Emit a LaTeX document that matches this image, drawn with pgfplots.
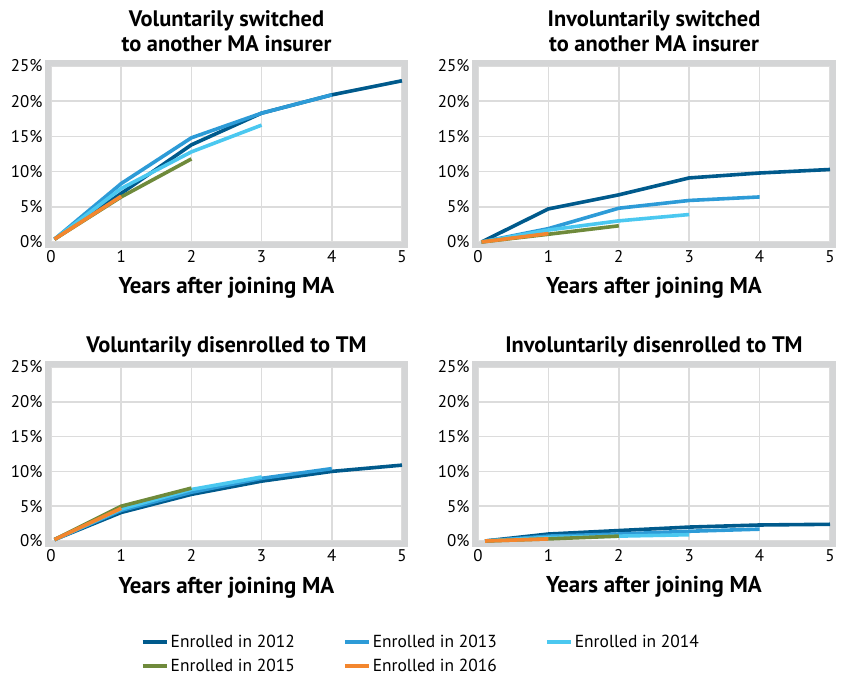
\documentclass[border=0pt]{standalone}
\usepackage{pgfplots}
\pgfplotsset{compat=1.18}
\usepackage{fontspec}
\setmainfont{PT Sans}
\definecolor{c12}{HTML}{005A8C}
\definecolor{c13}{HTML}{2D9BD7}
\definecolor{c14}{HTML}{4BC8F0}
\definecolor{c15}{HTML}{6F8A3B}
\definecolor{c16}{HTML}{F3862E}
\definecolor{framec}{HTML}{D4D5D6}
\definecolor{gridc}{HTML}{DCDCDC}
\pgfplotsset{
  myax/.style={
    scale only axis, width=351bp, height=176bp,
    xmin=0, xmax=5, ymin=0, ymax=25,
    xtick={0,...,5}, ytick={0,5,...,25},
    yticklabel={\pgfmathprintnumber{\tick}\%},
    grid=major, major grid style={gridc, line width=1.7bp},
    axis line style={draw=none},
    tick style={draw=none},
    ticklabel style={font=\fontsize{17}{19}\selectfont},
    xticklabel style={yshift=-5bp},
    yticklabel style={xshift=-5bp},
    /pgf/number format/assume math mode=true,
    xlabel={Years after joining MA},
    xlabel style={font=\bfseries\fontsize{23}{25}\selectfont, at={(axis description cs:0.5,0)}, anchor=base, yshift=-52bp},
    every axis plot/.append style={line width=3.6bp, line join=round, mark=none},
    clip=false,
  },
  toptitle/.style={title style={font=\bfseries\fontsize{22.5}{25}\selectfont, align=center, at={(axis description cs:0.5,1)}, anchor=south, inner sep=0pt, yshift=8bp}},
  bottitle/.style={title style={font=\bfseries\fontsize{22.5}{25}\selectfont, at={(axis description cs:0.5,1)}, anchor=base, inner sep=0pt, yshift=9bp}},
}
\newcommand{\plotframe}{\draw[framec, line width=6bp] ([xshift=-3bp,yshift=-3bp]rel axis cs:0,0) rectangle ([xshift=3bp,yshift=3bp]rel axis cs:1,1);}
\begin{document}
\begin{tikzpicture}
\path[use as bounding box] (0,0) rectangle (845bp,676bp);
% Top-left
\begin{axis}[myax, toptitle, at={(51bp,434bp)}, title={Voluntarily switched\\to another MA insurer}]
\plotframe
\addplot[c12] coordinates {(0.05,0.4) (1,6.9) (2,13.8) (3,18.3) (4,20.9) (5,22.9)};
\addplot[c13] coordinates {(0.05,0.4) (1,8.3) (2,14.8) (3,18.3) (4,20.9)};
\addplot[c14] coordinates {(0.05,0.4) (1,7.6) (2,12.8) (3,16.6)};
\addplot[c15] coordinates {(0.05,0.4) (1,6.4) (2,11.8)};
\addplot[c16] coordinates {(0.05,0.4) (1,6.5)};
\end{axis}
% Top-right
\begin{axis}[myax, toptitle, width=352bp, at={(478bp,434bp)}, title={Involuntarily switched\\to another MA insurer}]
\plotframe
\addplot[c12] coordinates {(0.05,0) (1,4.7) (2,6.7) (3,9.1) (4,9.8) (5,10.3)};
\addplot[c13] coordinates {(0.05,0) (1,1.9) (2,4.8) (3,5.9) (4,6.4)};
\addplot[c14] coordinates {(0.05,0) (1,1.7) (2,3.0) (3,3.9)};
\addplot[c15] coordinates {(0.05,0) (1,1.1) (2,2.3)};
\addplot[c16] coordinates {(0.05,0) (1,1.2)};
\end{axis}
% Bottom-left
\begin{axis}[myax, bottitle, height=174bp, at={(51bp,135bp)}, title={Voluntarily disenrolled to TM},
  legend columns=3,
  legend style={draw=none, fill=none, inner sep=0pt, at={(axis description cs:0.255,-0.531)}, anchor=north west,
    font=\fontsize{17.5}{19}\selectfont, row sep=9bp,
    nodes={inner ysep=1bp},
    /tikz/every even column/.append style={column sep=46bp}},
  legend image code/.code={\draw[line width=4bp] (0bp,0bp) -- (24bp,0bp);}]
\plotframe
\addplot[c12] coordinates {(0.05,0.2) (1,4.1) (2,6.7) (3,8.6) (4,10.0) (5,10.9)};
\addplot[c13] coordinates {(0.05,0.2) (1,4.4) (2,7.0) (3,9.0) (4,10.4)};
\addplot[c14] coordinates {(0.05,0.2) (1,4.6) (2,7.4) (3,9.2)};
\addplot[c15] coordinates {(0.05,0.2) (1,5.0) (2,7.6)};
\addplot[c16] coordinates {(0.05,0.2) (1,4.7)};
\legend{Enrolled in 2012, Enrolled in 2013, Enrolled in 2014, Enrolled in 2015, Enrolled in 2016}
\end{axis}
% Bottom-right
\begin{axis}[myax, bottitle, width=352bp, height=174bp, at={(478bp,135bp)}, title={Involuntarily disenrolled to TM}]
\plotframe
\addplot[c12] coordinates {(0.1,0) (1,1.0) (2,1.5) (3,2.0) (4,2.3) (5,2.4)};
\addplot[c13] coordinates {(0.1,0) (1,0.7) (2,1.0) (3,1.4) (4,1.7)};
\addplot[c14] coordinates {(0.1,0) (1,0.5) (2,0.7) (3,0.9)};
\addplot[c15] coordinates {(0.1,0) (1,0.3) (2,0.7)};
\addplot[c16] coordinates {(0.1,0) (1,0.3)};
\end{axis}
\end{tikzpicture}
\end{document}
